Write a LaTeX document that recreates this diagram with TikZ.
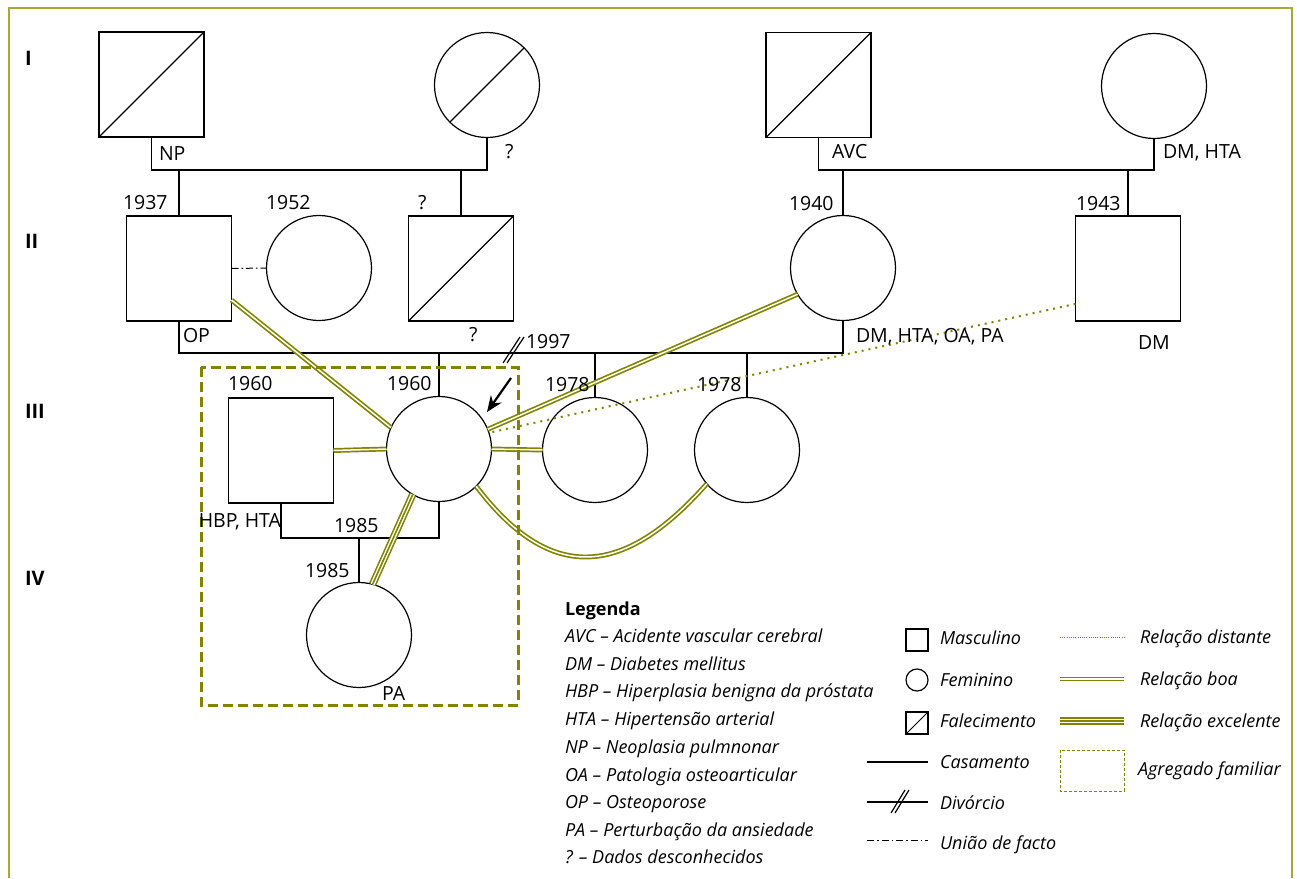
\documentclass[tikz,border=0pt]{standalone}
\usepackage{fontspec}
\setmainfont{Open Sans}
\usetikzlibrary{arrows.meta}
\definecolor{rel}{RGB}{130,132,0}
\definecolor{framec}{RGB}{168,168,56}
\begin{document}
\begin{tikzpicture}[x=1pt,y=-1pt,
  every node/.style={inner sep=0pt, outer sep=0pt},
  ln/.style={line width=1.2pt, draw=black},
  male/.style={draw, line width=1.2pt, rectangle, minimum size=105pt, fill=white},
  female/.style={draw, line width=1.2pt, circle, minimum size=105pt, fill=white},
  smale/.style={draw, line width=1.2pt, rectangle, minimum size=22pt},
  sfemale/.style={draw, line width=1.2pt, circle, minimum size=22pt},
  lbl/.style={font=\fontsize{19.5}{22}\selectfont, anchor=base west},
  gen/.style={font=\fontsize{20}{22}\selectfont\bfseries, anchor=base west},
  lgd/.style={font=\fontsize{18}{21}\selectfont\itshape, anchor=base west},
  boa/.style={draw=rel, double=white, line width=1.7pt, double distance=1.5pt},
  excel/.style={preaction={draw=rel, line width=7.5pt}, draw=white, line width=4.3pt, postaction={draw=rel, line width=1.6pt}},
  dist/.style={draw=rel, line width=2pt, dash pattern=on 2pt off 5pt},
  uniao/.style={draw=black, line width=1pt, dash pattern=on 7pt off 3pt on 1.5pt off 3pt},
  household/.style={draw=rel, line width=3pt, dash pattern=on 10pt off 5pt}
]
\useasboundingbox (0,0) rectangle (1297,878);
\draw[framec, line width=2.5pt] (9,878) -- (9,8) -- (1292,8) -- (1292,878);

% generation labels
\node[gen] (gI) at (25,65) {I};
\node[gen] (gII) at (25,248) {II};
\node[gen] (gIII) at (25,418) {III};
\node[gen] (gIV) at (25,585) {IV};

% Generation I
\node[male] (I1) at (151.5,84.5) {};
\draw[ln] (I1.south west) -- (I1.north east);
\node[female] (I2) at (487,85) {};
\draw[ln] (I2.225) -- (I2.45);
\node[male] (I3) at (818.5,85) {};
\draw[ln] (I3.south west) -- (I3.north east);
\node[female] (I4) at (1154,86) {};

% Generation II
\node[male] (II1) at (179,268.5) {};
\node[female] (II2) at (319,268) {};
\node[male] (II3) at (461,268.5) {};
\draw[ln] (II3.south west) -- (II3.north east);
\node[female] (II4) at (843,268) {};
\node[male] (II5) at (1128,268.5) {};

% Generation III
\node[male] (III1) at (281,450.5) {};
\node[female] (III2) at (439,449) {};
\node[female] (III3) at (595,450) {};
\node[female] (III4) at (747,450) {};

% Generation IV
\node[female] (IV1) at (359,635) {};

% marriage lines
\coordinate (m1) at (300,170);
\coordinate (m2) at (500,353);
\coordinate (m3) at (360,538);
\draw[ln] (I1.south) -- (I1.south |- m1) -| (I2.south);
\draw[ln] (I3.south) -- (I3.south |- m1) -| (I4.south);
\draw[ln] (II1.north) -- (II1.north |- m1);
\draw[ln] (II3.north) -- (II3.north |- m1);
\draw[ln] (II4.north) -- (II4.north |- m1);
\draw[ln] (II5.north) -- (II5.north |- m1);
\draw[ln] (II1.south) -- (II1.south |- m2) -| (II4.south);
\draw[ln] (III2.north) -- (III2.north |- m2);
\draw[ln] (III3.north) -- (III3.north |- m2);
\draw[ln] (III4.north) -- (III4.north |- m2);
\draw[ln] (III1.south) -- (III1.south |- m3) -| (III2.south);
\draw[ln] (IV1.north) -- (IV1.north |- m3);
\draw[uniao] (II1.east) -- (II2.west);

% divorce mark
\coordinate (dv1a) at (503,363);
\coordinate (dv1b) at (520,337);
\coordinate (dv2a) at (507,363);
\coordinate (dv2b) at (524,337);
\draw[line width=1.2pt] (dv1a) -- (dv1b) (dv2a) -- (dv2b);

% relationship lines
\draw[boa] (II1.-31.5) -- (III2.156);
\draw[boa] (II4.210) -- (III2.22);
\draw[dist] (II5.214) -- (III2.18);
\draw[boa] (III1.east) -- (III2.west);
\draw[boa] (III2.east) -- (III3.west);
\draw[boa] (III2.-45) .. controls (548,581) and (621,581) .. (III4.220);
\draw[excel] (III2.240) -- (IV1.75);

% household
\draw[household] (201,367) rectangle (518,705);

% index arrow
\coordinate (arA) at (511,378);
\coordinate (arB) at (487,412);
\draw[line width=2.2pt, -{Stealth[length=16pt,width=13pt]}] (arA) -- (arB);

% labels
\node[lbl] (tNP) at (159,160) {NP};
\node[lbl] (tq1) at (505,158) {?};
\node[lbl] (tAVC) at (832,158) {AVC};
\node[lbl] (tDMH) at (1163,158) {DM, HTA};
\node[lbl] (t1937) at (123,209) {1937};
\node[lbl] (t1952) at (266,209) {1952};
\node[lbl] (tq2) at (418,209) {?};
\node[lbl] (t1940) at (789,210) {1940};
\node[lbl] (t1943) at (1076,210) {1943};
\node[lbl] (tOP) at (183,342) {OP};
\node[lbl] (tq3) at (469,341) {?};
\node[lbl] (t1997) at (526,348) {1997};
\node[lbl] (tDMall) at (856,342) {DM, HTA, OA, PA};
\node[lbl] (tDM) at (1138,349) {DM};
\node[lbl] (t1960a) at (228,390) {1960};
\node[lbl] (t1960b) at (387,390) {1960};
\node[lbl] (t1978a) at (545,391) {1978};
\node[lbl] (t1978b) at (697,391) {1978};
\node[lbl, anchor=base east] (tHBP) at (281,527) {HBP, HTA};
\node[lbl] (t1985a) at (334,532) {1985};
\node[lbl] (t1985b) at (305,577) {1985};
\node[lbl] (tPA) at (382,700) {PA};

% legend text
\node[lgd, font=\fontsize{18}{21}\selectfont\bfseries] (lg0) at (565,615) {Legenda};
\node[lgd] (lg1) at (565,642) {AVC – Acidente vascular cerebral};
\node[lgd] (lg2) at (565,670) {DM – Diabetes mellitus};
\node[lgd] (lg3) at (565,697) {HBP – Hiperplasia benigna da próstata};
\node[lgd] (lg4) at (565,725) {HTA – Hipertensão arterial};
\node[lgd] (lg5) at (565,753) {NP – Neoplasia pulmnonar};
\node[lgd] (lg6) at (565,781) {OA – Patologia osteoarticular};
\node[lgd] (lg7) at (565,808) {OP – Osteoporose};
\node[lgd] (lg8) at (565,836) {PA – Perturbação da ansiedade};
\node[lgd] (lg9) at (565,863) {? – Dados desconhecidos};

% legend symbols
\node[smale] (sM) at (917,640) {};
\node[lgd] (lM) at (940,644) {Masculino};
\node[sfemale] (sF) at (917,680) {};
\node[lgd] (lF) at (940,686) {Feminino};
\node[smale] (sD) at (917,723) {};
\draw[line width=1pt] (sD.south west) -- (sD.north east);
\node[lgd] (lD) at (940,727) {Falecimento};
\coordinate (cas1) at (867,762);
\coordinate (cas2) at (928,762);
\draw[line width=1.2pt] (cas1) -- (cas2);
\node[lgd] (lC) at (940,768) {Casamento};
\coordinate (div1) at (867,802);
\coordinate (div2) at (928,802);
\draw[line width=1.2pt] (div1) -- (div2);
\coordinate (dm1a) at (891,813);
\coordinate (dm1b) at (905,790);
\coordinate (dm2a) at (895,813);
\coordinate (dm2b) at (909,790);
\draw[line width=1.2pt] (dm1a) -- (dm1b) (dm2a) -- (dm2b);
\node[lgd] (lDv) at (940,809) {Divórcio};
\coordinate (un1) at (867,840);
\coordinate (un2) at (928,840);
\draw[uniao] (un1) -- (un2);
\node[lgd] (lU) at (940,849) {União de facto};

\coordinate (rd1) at (1060,637);
\coordinate (rd2) at (1124,637);
\draw[draw=rel, line width=1pt, dash pattern=on 1pt off 1.2pt] (rd1) -- (rd2);
\node[lgd] (lRd) at (1140,643) {Relação distante};
\coordinate (rb1) at (1060,679);
\coordinate (rb2) at (1124,679);
\draw[boa] (rb1) -- (rb2);
\node[lgd] (lRb) at (1140,685) {Relação boa};
\coordinate (re1) at (1060,721);
\coordinate (re2) at (1124,721);
\draw[excel] (re1) -- (re2);
\node[lgd] (lRe) at (1140,727) {Relação excelente};
\draw[draw=rel, line width=1pt, dash pattern=on 3pt off 2pt] (1060,750) rectangle (1124,791);
\node[lgd] (lAg) at (1138,775) {Agregado familiar};
\end{tikzpicture}
\end{document}
